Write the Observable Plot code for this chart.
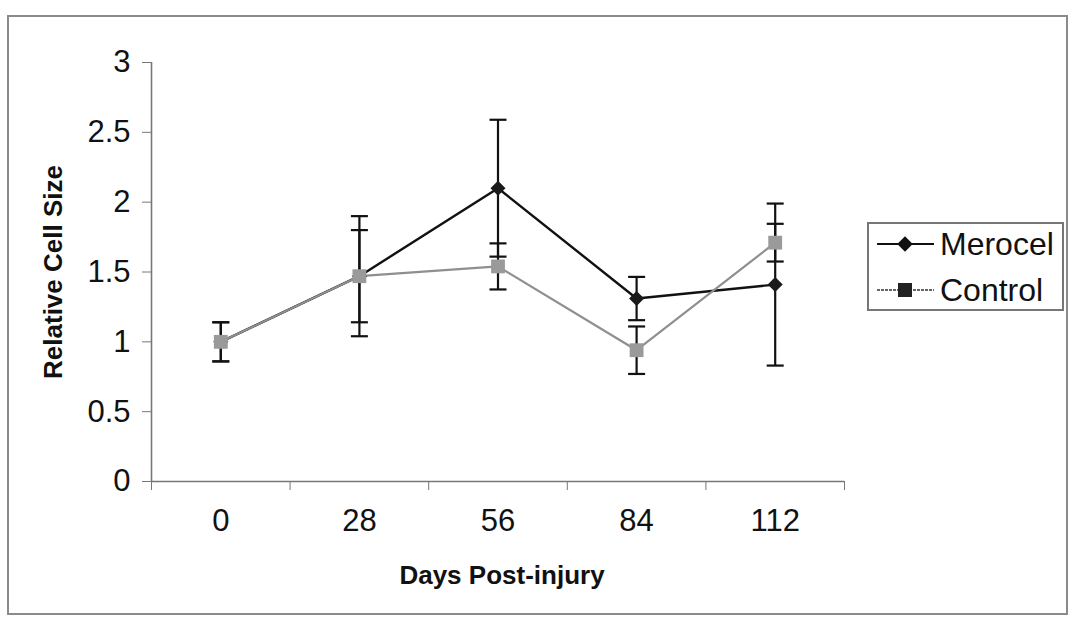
<!DOCTYPE html>
<html>
<head>
<meta charset="utf-8">
<script src="https://cdn.jsdelivr.net/npm/d3@7"></script>
<script src="https://cdn.jsdelivr.net/npm/@observablehq/plot@0.6"></script>
<style>
  html, body { margin: 0; padding: 0; background: #fff; }
  #wrap { position: relative; width: 1070px; height: 622px; font-family: "Liberation Sans", Arial, sans-serif; }
  #chart { position: absolute; left: 0; top: 0; }
  #border { position: absolute; left: 7px; top: 15px; width: 1057px; height: 596px; border: 2px solid #8a8a8a; box-sizing: content-box; pointer-events: none; }
  #legend { position: absolute; left: 867px; top: 222px; width: 193px; height: 85px; border: 2px solid #777; background: #fff; }
  .row { position: absolute; left: 0; height: 40px; display: flex; align-items: center; }
  .row span { font-size: 32px; color: #111; margin-left: 5px; line-height: 40px; }
</style>
</head>
<body>
<div id="wrap">
  <div id="chart"></div>
  <div id="border"></div>
  <div id="legend"></div>
</div>
<script>
// ---- data ----
const days = [0, 28, 56, 84, 112];
const dayLabels = ["0", "28", "56", "84", "112"];
const merocel = [1.0, 1.47, 2.10, 1.31, 1.41];
const merocelErr = [0.14, 0.43, 0.49, 0.155, 0.58];
const control = [1.0, 1.47, 1.54, 0.94, 1.71];
const controlErr = [0.14, 0.33, 0.165, 0.17, 0.135];
const yTicks = [0, 0.5, 1, 1.5, 2, 2.5, 3];
const seriesNames = ["Merocel", "Control"];
const seriesColors = ["#111111", "#8f8f8f"];
const markerColors = ["#1a1a1a", "#9a9a9a"];

// ---- derived tables ----
const step = days[1] - days[0];
const xDomain = [days[0] - step / 2, days[days.length - 1] + step / 2];
const bandEdges = [...days.map(d => d - step / 2), days[days.length - 1] + step / 2];

const rows = [];
days.forEach((d, i) => {
  rows.push({series: "Merocel", day: d, value: merocel[i], err: merocelErr[i]});
  rows.push({series: "Control", day: d, value: control[i], err: controlErr[i]});
});
const mer = rows.filter(r => r.series === "Merocel");
const con = rows.filter(r => r.series === "Control");
const caps = rows.flatMap(r => [{day: r.day, y: r.value + r.err}, {day: r.day, y: r.value - r.err}]);

const capSymbol = {
  draw(ctx, size) {
    const w = Math.sqrt(size / Math.PI);
    ctx.moveTo(-w, 0);
    ctx.lineTo(w, 0);
  }
};

const font = "Liberation Sans, Arial, sans-serif";

const chart = Plot.plot({
  width: 1070,
  height: 622,
  marginLeft: 151,
  marginRight: 226,
  marginTop: 62,
  marginBottom: 141,
  style: {fontFamily: font, background: "transparent", overflow: "visible"},
  x: {domain: xDomain},
  y: {domain: [0, 3]},
  marks: [
    // axes
    Plot.axisY({ticks: yTicks, tickFormat: d => String(d), tickSize: 9, tickPadding: 12, fontSize: 31, stroke: "#777", color: "#111", label: null}),
    Plot.axisX({ticks: bandEdges, tickFormat: () => "", tickSize: 9, stroke: "#777", label: null}),
    Plot.axisX({ticks: days, tickFormat: d => dayLabels[days.indexOf(d)], tickSize: 0, tickPadding: 27, fontSize: 31, color: "#111", label: null}),
    Plot.ruleY([0], {stroke: "#777", strokeWidth: 1.6}),
    Plot.ruleX([xDomain[0]], {stroke: "#777", strokeWidth: 1.6}),
    // axis titles
    Plot.text(["Days Post-injury"], {frameAnchor: "bottom", lineAnchor: "middle", dy: 94, dx: 4, fontSize: 26, fontWeight: "bold", fill: "#111"}),
    Plot.text(["Relative Cell Size"], {frameAnchor: "left", textAnchor: "middle", lineAnchor: "middle", rotate: -90, dx: -98, fontSize: 26, fontWeight: "bold", fill: "#111"}),
    // lines
    Plot.line(mer, {x: "day", y: "value", stroke: seriesColors[0], strokeWidth: 2.4}),
    Plot.line(con, {x: "day", y: "value", stroke: seriesColors[1], strokeWidth: 2.2}),
    // error bars
    Plot.ruleX(rows, {x: "day", y1: r => r.value - r.err, y2: r => r.value + r.err, stroke: "#111", strokeWidth: 2.2}),
    Plot.dot(caps, {x: "day", y: "y", symbol: capSymbol, r: 8.5, stroke: "#111", strokeWidth: 2.2, fill: "none"}),
    // markers
    Plot.dot(mer, {x: "day", y: "value", symbol: "square", rotate: 45, r: 6.0, fill: markerColors[0], stroke: "none"}),
    Plot.dot(con, {x: "day", y: "value", symbol: "square", r: 7.8, fill: markerColors[1], stroke: "none"})
  ]
});
document.getElementById("chart").appendChild(chart);

// ---- legend ----
const legend = document.getElementById("legend");
seriesNames.forEach((name, i) => {
  const row = document.createElement("div");
  row.className = "row";
  row.style.top = (i === 0 ? 0 : 46) + "px";
  const svg = d3.create("svg").attr("width", 66).attr("height", 40);
  svg.append("line").attr("x1", 8).attr("x2", 65).attr("y1", 20).attr("y2", 20)
    .attr("stroke", i === 0 ? "#111" : "#666").attr("stroke-width", 2)
    .attr("stroke-dasharray", i === 0 ? null : "3,1");
  if (i === 0) {
    svg.append("rect").attr("x", -5.5).attr("y", -5.5).attr("width", 11).attr("height", 11)
      .attr("transform", "translate(36,20) rotate(45)").attr("fill", "#111");
  } else {
    svg.append("rect").attr("x", 29).attr("y", 13).attr("width", 14).attr("height", 14).attr("fill", "#222");
  }
  row.appendChild(svg.node());
  const label = document.createElement("span");
  label.textContent = name;
  row.appendChild(label);
  legend.appendChild(row);
});
</script>
</body>
</html>
